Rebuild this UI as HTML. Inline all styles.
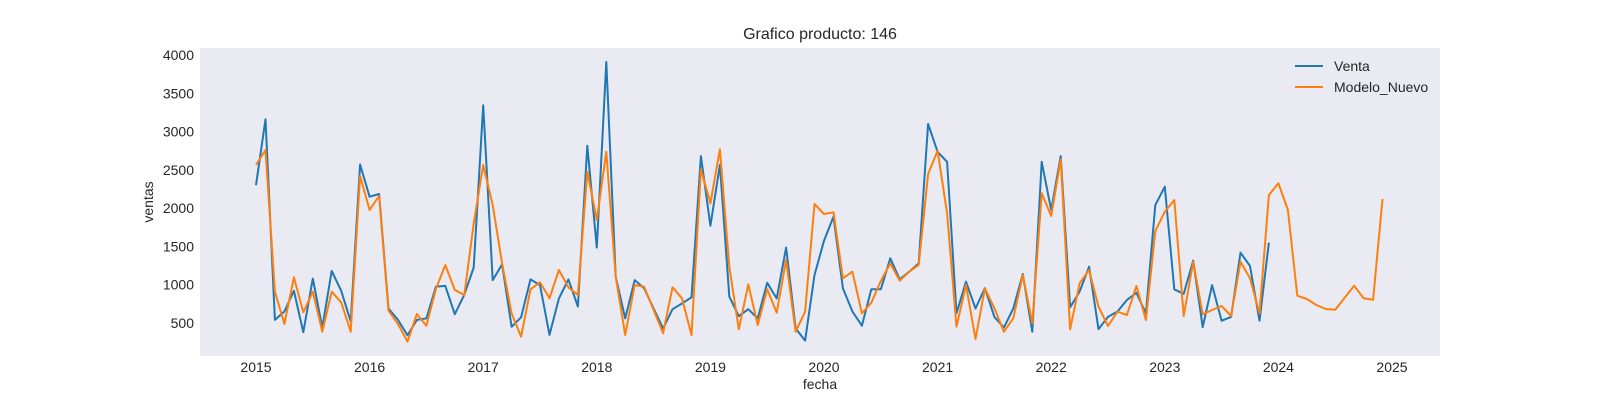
<!DOCTYPE html>
<html><head><meta charset="utf-8"><style>
html,body{margin:0;padding:0;background:#fff;}
svg{display:block;font-family:"Liberation Sans",Arial,sans-serif;}
</style></head><body>
<svg id="chart" width="1600" height="400" viewBox="0 0 1600 400" xmlns="http://www.w3.org/2000/svg">
<rect x="200" y="48" width="1240" height="308" fill="#eaeaf2"/>
<text x="820" y="39" text-anchor="middle" font-size="16" fill="#262626">Grafico producto: 146</text>
<text x="820" y="389" text-anchor="middle" font-size="14" fill="#262626">fecha</text>
<text x="0" y="0" transform="translate(153,202) rotate(-90)" text-anchor="middle" font-size="14" fill="#262626">ventas</text>
<g id="yticks"></g>
<g id="xticks"></g>
<g id="series"></g>
<g>
  <line x1="1295" y1="66" x2="1323" y2="66" stroke="#1f77b4" stroke-width="2"/>
  <text x="1334" y="71" font-size="14" fill="#262626">Venta</text>
  <line x1="1295" y1="87" x2="1323" y2="87" stroke="#ff7f0e" stroke-width="2"/>
  <text x="1334" y="92" font-size="14" fill="#262626">Modelo_Nuevo</text>
</g>
</svg>
<script>
const yTicks = [500, 1000, 1500, 2000, 2500, 3000, 3500, 4000];
const xTickYears = [2015, 2016, 2017, 2018, 2019, 2020, 2021, 2022, 2023, 2024, 2025];
const startYear = 2015;
const venta = [
2300,3160,540,650,920,380,1080,440,1180,920,520,2570,
2150,2185,690,540,340,540,560,975,985,615,870,1225,
3345,1060,1265,450,575,1070,995,345,820,1070,715,2815,
1485,3910,1105,560,1060,955,690,430,680,755,835,2680,
1770,2565,845,590,680,560,1025,820,1485,430,270,1125,
1575,1890,955,650,465,940,940,1345,1070,1170,1280,3100,
2735,2605,625,1040,690,955,580,440,690,1140,385,2605,
1975,2680,705,910,1235,420,580,650,800,895,625,2040,
2280,940,880,1315,445,995,530,580,1420,1245,530,1550
];
const modeloNuevo = [
2563,2759,909,487,1097,640,909,387,909,770,387,2420,
1976,2159,661,487,256,617,465,944,1257,931,866,1800,
2563,2041,1279,626,321,940,1031,822,1192,966,866,2476,
1845,2737,1105,343,996,974,670,365,966,822,343,2507,
2063,2768,1235,418,1005,474,940,635,1323,387,648,2054,
1924,1946,1084,1170,626,765,1048,1279,1053,1170,1257,2446,
2750,1933,452,996,291,953,692,387,561,1127,496,2194,
1897,2638,418,1018,1192,713,461,648,604,983,539,1700,
1954,2106,591,1301,613,670,722,591,1301,1084,626,2172,
2324,1976,857,813,735,683,674,830,987,822,804,2119
];
const NS = "http://www.w3.org/2000/svg";
// axis functions: time in years (fractional) -> px
function xScale(t){ return 256 + (t - 2015) * 113.6; }
function monthX(i){ return xScale(startYear + i / 12); }
function yScale(v){ return 323 - (v - 500) * 0.07657; }
const yg = document.getElementById('yticks');
yTicks.forEach(v => {
  const t = document.createElementNS(NS,'text');
  
  
  t.setAttribute('x', 194); t.setAttribute('y', yScale(v) + 5);
  t.setAttribute('text-anchor','end'); t.setAttribute('font-size','14'); t.setAttribute('fill','#262626');
  t.textContent = v; yg.appendChild(t);
});
const xg = document.getElementById('xticks');
xTickYears.forEach(y => {
  const t = document.createElementNS(NS,'text');
  
  
  t.setAttribute('x', xScale(y)); t.setAttribute('y', 372);
  t.setAttribute('text-anchor','middle'); t.setAttribute('font-size','14'); t.setAttribute('fill','#262626');
  t.textContent = y; xg.appendChild(t);
});
const sg = document.getElementById('series');
function drawLine(arr, color, name){
  const p = document.createElementNS(NS,'polyline');
  
  
  p.setAttribute('points', arr.map((v,i)=> monthX(i).toFixed(1)+','+yScale(v).toFixed(1)).join(' '));
  p.setAttribute('fill','none'); p.setAttribute('stroke',color); p.setAttribute('stroke-width','2');
  p.setAttribute('stroke-linejoin','round');
  sg.appendChild(p);
}
drawLine(venta, '#1f77b4', 'venta-line');
drawLine(modeloNuevo, '#ff7f0e', 'modelo-nuevo-line');
</script>
</body></html>
